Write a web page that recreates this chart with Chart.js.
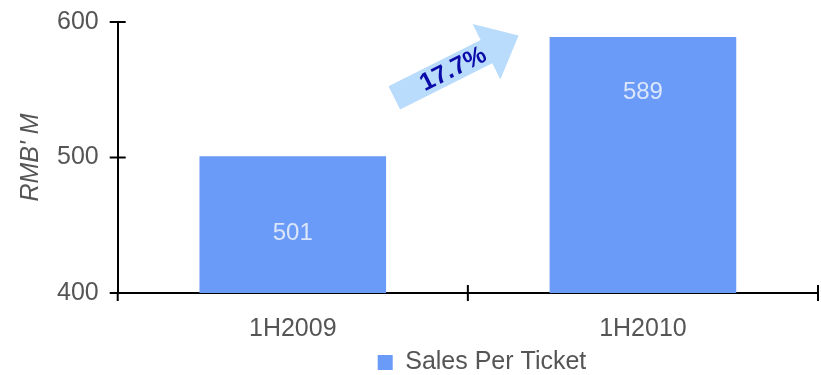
<!DOCTYPE html>
<html>
<head>
<meta charset="utf-8">
<script src="https://cdn.jsdelivr.net/npm/chart.js@4.4.1/dist/chart.umd.min.js"></script>
<style>
  html, body { margin: 0; padding: 0; background: #fff; }
  #wrap { width: 821px; height: 375px; }
</style>
</head>
<body>
<div id="wrap"><canvas id="salesChart"></canvas></div>
<script>
const categories = ["1H2009", "1H2010"];
const salesPerTicket = [501, 589];
const yTicks = [400, 500, 600];
const growthLabel = "17.7%";

const FONT = "'Liberation Sans', Arial, sans-serif";

// legend sits right of centre in the original
const legendShift = {
  id: "legendShift",
  afterLayout(chart, args, opts) {
    const lg = chart.legend;
    lg.left += opts.dx; lg.right += opts.dx;
    lg.top += opts.dy; lg.bottom += opts.dy;
  }
};

// crossing tick marks on both axes
const axisTicks = {
  id: "axisTicks",
  afterDraw(chart) {
    const ctx = chart.ctx;
    const x = chart.scales.x, y = chart.scales.y;
    ctx.save();
    ctx.strokeStyle = "#000";
    ctx.lineWidth = 2;
    yTicks.forEach(v => {
      const py = y.getPixelForValue(v);
      ctx.beginPath();
      ctx.moveTo(x.left - 8, py);
      ctx.lineTo(x.left + 8, py);
      ctx.stroke();
    });
    const half = (x.getPixelForValue(1) - x.getPixelForValue(0)) / 2;
    const xs = [x.getPixelForValue(0) - half];
    categories.forEach((c, i) => xs.push(x.getPixelForValue(i) + half));
    xs.forEach((px, i) => {
      ctx.beginPath();
      ctx.moveTo(px, y.bottom + 8);
      ctx.lineTo(px, i === 0 ? y.bottom : y.bottom - 8);
      ctx.stroke();
    });
    ctx.restore();
  }
};

// value labels inside the bars
const barValues = {
  id: "barValues",
  afterDatasetsDraw(chart, args, opts) {
    const ctx = chart.ctx;
    const meta = chart.getDatasetMeta(0);
    const y = chart.scales.y;
    ctx.save();
    ctx.fillStyle = "#dbe6fb";
    ctx.font = "24px " + FONT;
    ctx.textAlign = "center";
    ctx.textBaseline = "middle";
    meta.data.forEach((bar, i) => {
      ctx.fillText(String(salesPerTicket[i]), bar.x, y.getPixelForValue(opts.at[i]));
    });
    ctx.restore();
  }
};

// growth arrow between the bars
const growthArrow = {
  id: "growthArrow",
  afterDatasetsDraw(chart, args, opts) {
    const ctx = chart.ctx;
    const x = chart.scales.x, y = chart.scales.y;
    const x0 = x.getPixelForValue(opts.from[0]), y0 = y.getPixelForValue(opts.from[1]);
    const x1 = x.getPixelForValue(opts.to[0]), y1 = y.getPixelForValue(opts.to[1]);
    const ang = Math.atan2(y1 - y0, x1 - x0);
    const len = Math.hypot(x1 - x0, y1 - y0);
    const sw = 13, hw = 31, hl = 36;
    ctx.save();
    ctx.translate(x0, y0);
    ctx.rotate(ang);
    ctx.fillStyle = "#b9dcfd";
    ctx.beginPath();
    ctx.moveTo(0, -sw);
    ctx.lineTo(len - hl, -sw);
    ctx.lineTo(len - hl, -hw);
    ctx.lineTo(len, 0);
    ctx.lineTo(len - hl, hw);
    ctx.lineTo(len - hl, sw);
    ctx.lineTo(0, sw);
    ctx.closePath();
    ctx.fill();
    ctx.fillStyle = "#0a0aa8";
    ctx.font = "bold 25px " + FONT;
    ctx.textAlign = "center";
    ctx.textBaseline = "middle";
    ctx.fillText(growthLabel, (len - hl) / 2 + 14, 1);
    ctx.restore();
  }
};

new Chart(document.getElementById("salesChart").getContext("2d"), {
  type: "bar",
  data: {
    labels: categories,
    datasets: [{
      label: "Sales Per Ticket",
      data: salesPerTicket,
      backgroundColor: "#6b9bf9",
      borderWidth: 0,
      categoryPercentage: 1,
      barPercentage: 0.533
    }]
  },
  options: {
    responsive: true,
    maintainAspectRatio: false,
    animation: false,
    layout: { padding: { top: 22, right: 3, left: 16, bottom: -17 } },
    scales: {
      x: {
        grid: { display: false },
        border: { display: true, color: "#000", width: 2 },
        ticks: { color: "#555", font: { family: FONT, size: 25 }, padding: 13 }
      },
      y: {
        min: 400,
        max: 600,
        grid: { display: false },
        border: { display: true, color: "#000", width: 2 },
        ticks: { stepSize: 100, color: "#555", font: { family: FONT, size: 25, lineHeight: 0.6 }, padding: 11 },
        title: { display: true, text: "RMB' M", color: "#555", font: { family: FONT, size: 25, style: "italic" }, padding: 0 }
      }
    },
    plugins: {
      legend: {
        position: "bottom",
        labels: { color: "#555", font: { family: FONT, size: 25 }, boxWidth: 15, boxHeight: 15, padding: 0 }
      },
      legendShift: { dx: 65, dy: -7 },
      tooltip: { enabled: false },
      barValues: { at: [444, 548] },
      growthArrow: { from: [0.29, 544], to: [0.645, 590] }
    }
  },
  plugins: [legendShift, axisTicks, barValues, growthArrow]
});
</script>
</body>
</html>
